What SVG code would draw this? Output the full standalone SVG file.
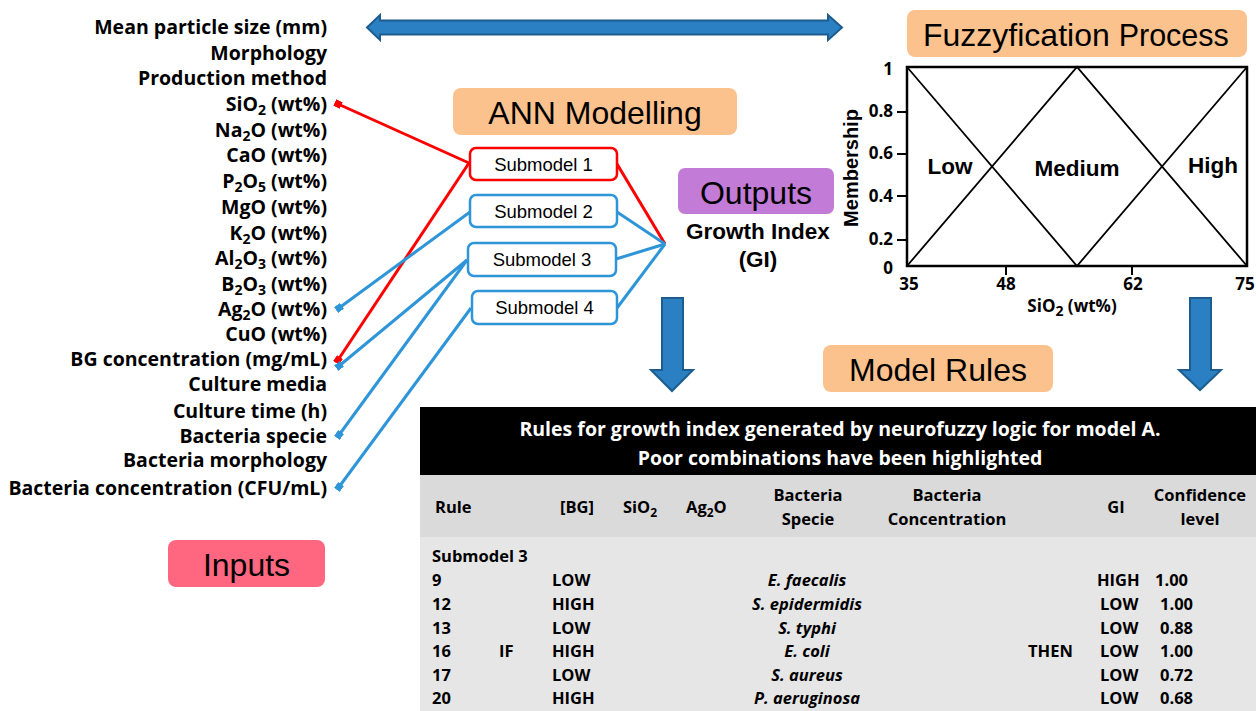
<svg xmlns="http://www.w3.org/2000/svg" width="1256" height="711" viewBox="0 0 1256 711">
<style>
.in{font-family:"Open Sans",Lato,sans-serif;font-weight:bold;font-size:19.5px;fill:#000;text-anchor:end}
.lbl{font-family:"Liberation Sans",Arial,sans-serif;font-size:32px;fill:#000;text-anchor:middle}
.sm{font-family:"Liberation Sans",Arial,sans-serif;font-size:18.5px;fill:#000;text-anchor:middle}
.smbox{fill:#fff;stroke-width:2.5}
.red{stroke:#ff0000}
.blue{stroke:#2e95d8}
.con{fill:none;stroke-width:3}
.ab{font-family:"Liberation Sans",Arial,sans-serif;font-weight:bold;fill:#000}
.tk{font-family:"Open Sans",Lato,sans-serif;font-weight:bold;font-size:17px;fill:#000}
.th{font-family:"Open Sans",Lato,sans-serif;font-weight:bold;font-size:19.5px;fill:#fff;text-anchor:middle}
.tc{font-family:"Open Sans",Lato,sans-serif;font-weight:bold;font-size:16.5px;fill:#000}
.tm{text-anchor:middle}
.it{font-style:italic}
.arrow{fill:#2a80c2;stroke:#1d5d8e;stroke-width:2;stroke-linejoin:miter}
</style>
<defs>
<marker id="sqr" markerUnits="userSpaceOnUse" markerWidth="7" markerHeight="7" refX="3.5" refY="3.5" orient="auto"><rect width="7" height="7" fill="#ff0000"/></marker>
<marker id="sqb" markerUnits="userSpaceOnUse" markerWidth="7" markerHeight="7" refX="3.5" refY="3.5" orient="auto"><rect width="7" height="7" fill="#2e95d8"/></marker>
</defs>
<rect width="1256" height="711" fill="#fff"/>

<g id="inputs-list">
<text class="in" x="327" y="34">Mean particle size (mm)</text>
<text class="in" x="327" y="60">Morphology</text>
<text class="in" x="327" y="85">Production method</text>
<text class="in" x="327" y="111">SiO<tspan font-size="14" dy="4">2</tspan><tspan dy="-4"> (wt%)</tspan></text>
<text class="in" x="327" y="137">Na<tspan font-size="14" dy="4">2</tspan><tspan dy="-4">O (wt%)</tspan></text>
<text class="in" x="327" y="162">CaO (wt%)</text>
<text class="in" x="327" y="188">P<tspan font-size="14" dy="4">2</tspan><tspan dy="-4">O</tspan><tspan font-size="14" dy="4">5</tspan><tspan dy="-4"> (wt%)</tspan></text>
<text class="in" x="327" y="214">MgO (wt%)</text>
<text class="in" x="327" y="240">K<tspan font-size="14" dy="4">2</tspan><tspan dy="-4">O (wt%)</tspan></text>
<text class="in" x="327" y="265">Al<tspan font-size="14" dy="4">2</tspan><tspan dy="-4">O</tspan><tspan font-size="14" dy="4">3</tspan><tspan dy="-4"> (wt%)</tspan></text>
<text class="in" x="327" y="291">B<tspan font-size="14" dy="4">2</tspan><tspan dy="-4">O</tspan><tspan font-size="14" dy="4">3</tspan><tspan dy="-4"> (wt%)</tspan></text>
<text class="in" x="327" y="316">Ag<tspan font-size="14" dy="4">2</tspan><tspan dy="-4">O (wt%)</tspan></text>
<text class="in" x="327" y="341">CuO (wt%)</text>
<text class="in" x="327" y="366">BG concentration (mg/mL)</text>
<text class="in" x="327" y="391">Culture media</text>
<text class="in" x="327" y="418">Culture time (h)</text>
<text class="in" x="327" y="443">Bacteria specie</text>
<text class="in" x="327" y="467">Bacteria morphology</text>
<text class="in" x="327" y="495">Bacteria concentration (CFU/mL)</text>
</g>

<g id="double-arrow">
<polygon class="arrow" points="367,27.5 380,15 380,20.5 828,20.5 828,15 842,27.5 828,40 828,34.5 380,34.5 380,40"/>
</g>

<g id="connectors">
<path class="con red" d="M469,163 L338,104" marker-end="url(#sqr)"/>
<path class="con red" d="M469,163 L338,360" marker-end="url(#sqr)"/>
<path class="con blue" d="M470,212 L339,308" marker-end="url(#sqb)"/>
<path class="con blue" d="M467,260 L339,366" marker-end="url(#sqb)"/>
<path class="con blue" d="M467,260 L339,435" marker-end="url(#sqb)"/>
<path class="con blue" d="M471,308 L339,487" marker-end="url(#sqb)"/>
<path class="con red" d="M617,164 L665,244"/>
<path class="con blue" d="M617,212 L665,244"/>
<path class="con blue" d="M616,259 L665,244"/>
<path class="con blue" d="M617,308 L665,244"/>
</g>

<g id="ann-modelling">
<rect x="453" y="88" width="284" height="47" rx="8" fill="#fcc28e"/>
<text class="lbl" x="595" y="124">ANN Modelling</text>
</g>

<g id="submodel-1">
<rect class="smbox red" x="470" y="148" width="147" height="32" rx="6"/>
<text class="sm" x="543.5" y="171">Submodel 1</text>
</g>
<g id="submodel-2">
<rect class="smbox blue" x="470" y="195" width="147" height="32" rx="6"/>
<text class="sm" x="543.5" y="218">Submodel 2</text>
</g>
<g id="submodel-3">
<rect class="smbox blue" x="468" y="243" width="148" height="33" rx="6"/>
<text class="sm" x="542" y="266">Submodel 3</text>
</g>
<g id="submodel-4">
<rect class="smbox blue" x="472" y="291" width="145" height="33" rx="6"/>
<text class="sm" x="544.5" y="314">Submodel 4</text>
</g>

<g id="outputs">
<rect x="678" y="168" width="156" height="46" rx="7" fill="#c27bd6"/>
<text class="lbl" x="756" y="204">Outputs</text>
<text class="ab" x="758" y="239" font-size="22.5" text-anchor="middle">Growth Index</text>
<text class="ab" x="758" y="267" font-size="22.5" text-anchor="middle">(GI)</text>
</g>

<g id="down-arrow-1">
<polygon class="arrow" points="662,298 683,298 683,370 693,370 672,391 651,370 662,370"/>
</g>
<g id="down-arrow-2">
<polygon class="arrow" points="1190,298 1211,298 1211,370 1221,370 1200,390 1179,370 1190,370"/>
</g>

<g id="fuzzyfication">
<rect x="907" y="10" width="340" height="47" rx="8" fill="#fcc28e"/>
<text x="923" y="46" font-family="'Liberation Sans',Arial,sans-serif" font-size="32" fill="#000">Fuzzyfication <tspan font-size="30.5">Process</tspan></text>
</g>

<g id="fuzzy-chart">
<rect x="907" y="67" width="340" height="199" fill="#fff" stroke="#000" stroke-width="2.5"/>
<path d="M907,67 L1077,266 L1247,67 M907,266 L1077,67 L1247,266" fill="none" stroke="#000" stroke-width="1.8"/>
<path d="M897,112 H907 M897,154 H907 M897,196 H907 M897,240 H907 M1006,266 V275 M1132,266 V275" stroke="#000" stroke-width="2"/>
<text class="tk" x="893" y="75" text-anchor="end">1</text>
<text class="tk" x="893" y="117" text-anchor="end">0.8</text>
<text class="tk" x="893" y="159" text-anchor="end">0.6</text>
<text class="tk" x="893" y="202" text-anchor="end">0.4</text>
<text class="tk" x="893" y="245" text-anchor="end">0.2</text>
<text class="tk" x="893" y="274" text-anchor="end">0</text>
<text class="tk" x="909" y="290" text-anchor="middle">35</text>
<text class="tk" x="1006" y="290" text-anchor="middle">48</text>
<text class="tk" x="1133" y="290" text-anchor="middle">62</text>
<text class="tk" x="1245" y="290" text-anchor="middle">75</text>
<text class="tk" x="1072" y="312" text-anchor="middle" font-size="20">SiO<tspan font-size="14" dy="4">2</tspan><tspan dy="-4"> (wt%)</tspan></text>
<text class="ab" x="0" y="0" font-size="20" text-anchor="middle" transform="translate(858,168) rotate(-90)">Membership</text>
<text class="ab" x="950" y="174" font-size="22.5" text-anchor="middle">Low</text>
<text class="ab" x="1077" y="176" font-size="22.5" text-anchor="middle">Medium</text>
<text class="ab" x="1213" y="173" font-size="22.5" text-anchor="middle">High</text>
</g>

<g id="model-rules">
<rect x="823" y="345" width="230" height="47" rx="8" fill="#fcc28e"/>
<text class="lbl" x="938" y="381">Model Rules</text>
</g>

<g id="inputs-label">
<rect x="168" y="540" width="157" height="47" rx="8" fill="#ff6680"/>
<text class="lbl" x="246.5" y="576">Inputs</text>
</g>

<g id="rules-table">
<rect x="420" y="407" width="836" height="68" fill="#000"/>
<rect x="420" y="475" width="836" height="62" fill="#dadada"/>
<rect x="420" y="537" width="836" height="174" fill="#e6e6e6"/>
<text class="th" x="840" y="436">Rules for growth index generated by neurofuzzy logic for model A.</text>
<text class="th" x="840" y="465">Poor combinations have been highlighted</text>
<text class="tc" x="435" y="513">Rule</text>
<text class="tc" x="560" y="513">[BG]</text>
<text class="tc" x="623" y="513">SiO<tspan font-size="12" dy="4">2</tspan></text>
<text class="tc" x="686" y="513">Ag<tspan font-size="12" dy="4">2</tspan><tspan dy="-4">O</tspan></text>
<text class="tc tm" x="808" y="501">Bacteria</text>
<text class="tc tm" x="808" y="525">Specie</text>
<text class="tc tm" x="947" y="501">Bacteria</text>
<text class="tc tm" x="947" y="525">Concentration</text>
<text class="tc tm" x="1116" y="513">GI</text>
<text class="tc tm" x="1200" y="501">Confidence</text>
<text class="tc tm" x="1200" y="525">level</text>
<text class="tc" x="432" y="562">Submodel 3</text>
<text class="tc" x="432" y="586">9</text>
<text class="tc" x="432" y="610">12</text>
<text class="tc" x="432" y="634">13</text>
<text class="tc" x="432" y="657">16</text>
<text class="tc" x="432" y="681">17</text>
<text class="tc" x="432" y="704">20</text>
<text class="tc" x="499" y="657">IF</text>
<text class="tc" x="552" y="586">LOW</text>
<text class="tc" x="552" y="610">HIGH</text>
<text class="tc" x="552" y="634">LOW</text>
<text class="tc" x="552" y="657">HIGH</text>
<text class="tc" x="552" y="681">LOW</text>
<text class="tc" x="552" y="704">HIGH</text>
<text class="tc tm it" x="807" y="586">E. faecalis</text>
<text class="tc tm it" x="807" y="610">S. epidermidis</text>
<text class="tc tm it" x="807" y="634">S. typhi</text>
<text class="tc tm it" x="807" y="657">E. coli</text>
<text class="tc tm it" x="807" y="681">S. aureus</text>
<text class="tc tm it" x="807" y="704">P. aeruginosa</text>
<text class="tc" x="1028" y="657">THEN</text>
<text class="tc" x="1097" y="586">HIGH</text>
<text class="tc" x="1100" y="610">LOW</text>
<text class="tc" x="1100" y="634">LOW</text>
<text class="tc" x="1100" y="657">LOW</text>
<text class="tc" x="1100" y="681">LOW</text>
<text class="tc" x="1100" y="704">LOW</text>
<text class="tc" x="1155" y="586">1.00</text>
<text class="tc" x="1160" y="610">1.00</text>
<text class="tc" x="1160" y="634">0.88</text>
<text class="tc" x="1160" y="657">1.00</text>
<text class="tc" x="1160" y="681">0.72</text>
<text class="tc" x="1160" y="704">0.68</text>
</g>
</svg>
